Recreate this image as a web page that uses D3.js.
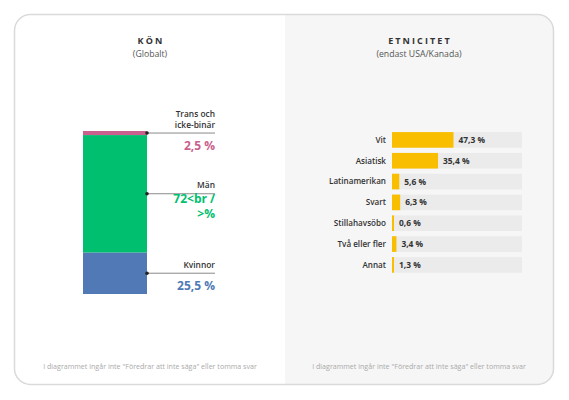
<!DOCTYPE html>
<html>
<head>
<meta charset="utf-8">
<script src="https://cdn.jsdelivr.net/npm/d3@7"></script>
<style>
  html, body { margin: 0; padding: 0; background: #fff; }
  svg { display: block; font-family: "Open Sans", "Noto Sans", sans-serif; }
</style>
</head>
<body>
<svg id="chart" width="569" height="400"></svg>
<script>
// ---- Data ----
const genderCategories = ["Kvinnor", "Män", "Trans och icke-binär"];
const genderNameLines = [["Kvinnor"], ["Män"], ["Trans och", "icke-binär"]];
const genderValues = [25.5, 72, 2.5];
const genderValueLabels = ["25,5 %", "72<br />%", "2,5 %"];

const ethnicCategories = ["Vit", "Asiatisk", "Latinamerikan", "Svart", "Stillahavsöbo", "Två eller fler", "Annat"];
const ethnicValues = [47.3, 35.4, 5.6, 6.3, 0.6, 3.4, 1.3];
const ethnicValueLabels = ["47,3 %", "35,4 %", "5,6 %", "6,3 %", "0,6 %", "3,4 %", "1,3 %"];

const titles = ["KÖN", "ETNICITET"];
const subtitles = ["(Globalt)", "(endast USA/Kanada)"];
const footnote = "I diagrammet ingår inte \"Föredrar att inte säga\" eller tomma svar";

// ---- Setup ----
const svg = d3.select("#chart");
const card = { x: 14.5, y: 14.5, w: 539, h: 370, r: 16 };
const splitX = 285;

const defs = svg.append("defs");
defs.append("clipPath").attr("id", "cardClip")
  .append("rect").attr("x", card.x).attr("y", card.y).attr("width", card.w).attr("height", card.h).attr("rx", card.r);

svg.append("rect").attr("x", card.x).attr("y", card.y).attr("width", card.w).attr("height", card.h)
  .attr("rx", card.r).attr("fill", "#fff");
svg.append("rect").attr("clip-path", "url(#cardClip)")
  .attr("x", splitX).attr("y", card.y).attr("width", card.x + card.w - splitX).attr("height", card.h)
  .attr("fill", "#f6f6f6");
svg.append("rect").attr("x", card.x).attr("y", card.y).attr("width", card.w).attr("height", card.h)
  .attr("rx", card.r).attr("fill", "none").attr("stroke", "#dadada").attr("stroke-width", 1.5);

const centers = [150, 419];
titles.forEach((t, i) => {
  svg.append("text").attr("x", centers[i] + 1).attr("y", 44).attr("text-anchor", "middle")
    .attr("font-size", 9).attr("font-weight", 700).attr("letter-spacing", 2.1)
    .attr("fill", "#333").text(t);
  svg.append("text").attr("x", centers[i]).attr("y", 57).attr("text-anchor", "middle")
    .attr("font-size", 8.7).attr("fill", "#555").text(subtitles[i]);
  svg.append("text").attr("x", centers[i]).attr("y", 369).attr("text-anchor", "middle")
    .attr("font-size", 7.1).attr("fill", "#aaa").text(footnote);
});

// ---- Left: stacked bar ----
const genderColors = ["#5079b5", "#00bf6f", "#c9608d"];
const genderRow = {};
genderCategories.forEach((c, i) => genderRow[c] = genderValues[i]);
const stack = d3.stack().keys(genderCategories)([genderRow]);

const gx = d3.scaleBand().domain(["Globalt"]).range([83, 147]).padding(0);
const gy = d3.scaleLinear().domain([0, 100]).range([294, 131]);

const gG = svg.append("g");
stack.forEach((s, i) => {
  const seg = s[0];
  gG.append("rect")
    .attr("x", gx("Globalt")).attr("width", gx.bandwidth())
    .attr("y", gy(seg[1])).attr("height", gy(seg[0]) - gy(seg[1]))
    .attr("fill", genderColors[i]);
});

const lineEnd = 215;
stack.forEach((s, i) => {
  const seg = s[0];
  const ly = gy((seg[0] + seg[1]) / 2);
  const x0 = gx("Globalt") + gx.bandwidth();
  gG.append("line").attr("x1", x0).attr("x2", lineEnd).attr("y1", ly).attr("y2", ly)
    .attr("stroke", "#8a8a8a").attr("stroke-width", 1);
  gG.append("circle").attr("cx", x0).attr("cy", ly).attr("r", 1.8).attr("fill", "#222");

  const names = genderNameLines[i];
  names.forEach((n, j) => {
    gG.append("text").attr("x", lineEnd).attr("y", ly - 5.5 - (names.length - 1 - j) * 10.5)
      .attr("text-anchor", "end").attr("font-size", 8.4).attr("font-weight", 600)
      .attr("fill", "#333").text(n);
  });
  const label = genderValueLabels[i];
  const vlines = label.includes("<br />") ? label.split(/(?<=\/)/) : [label];
  const base = ly + 16.5 - (vlines.length - 1) * 7.5;
  vlines.forEach((v, j) => {
    gG.append("text").attr("x", lineEnd).attr("y", base + j * 15.5)
      .attr("text-anchor", "end").attr("font-size", 12).attr("font-weight", 700)
      .attr("fill", genderColors[i]).text(v);
  });
});

// ---- Right: horizontal bars ----
const ex = d3.scaleLinear().domain([0, 100]).range([392, 522]);
const ey = d3.scaleBand().domain(ethnicCategories).range([129.6, 275.2]).paddingInner(0.25).paddingOuter(0.12);

const eG = svg.append("g");
ethnicCategories.forEach((c, i) => {
  const y = ey(c), h = ey.bandwidth();
  eG.append("rect").attr("x", ex(0)).attr("width", ex(100) - ex(0)).attr("y", y).attr("height", h)
    .attr("fill", "#ebebeb");
  const w = Math.max(ex(ethnicValues[i]) - ex(0), 2);
  eG.append("rect").attr("x", ex(0)).attr("width", w).attr("y", y).attr("height", h)
    .attr("fill", "#f9be00");
  eG.append("text").attr("x", 386).attr("y", y + h / 2).attr("dy", "0.35em")
    .attr("text-anchor", "end").attr("font-size", 8.1).attr("font-weight", 600)
    .attr("fill", "#333").text(c);
  eG.append("text").attr("x", ex(0) + w + 5).attr("y", y + h / 2).attr("dy", "0.35em")
    .attr("font-size", 8.4).attr("font-weight", 700).attr("fill", "#333").text(ethnicValueLabels[i]);
});
</script>
</body>
</html>
